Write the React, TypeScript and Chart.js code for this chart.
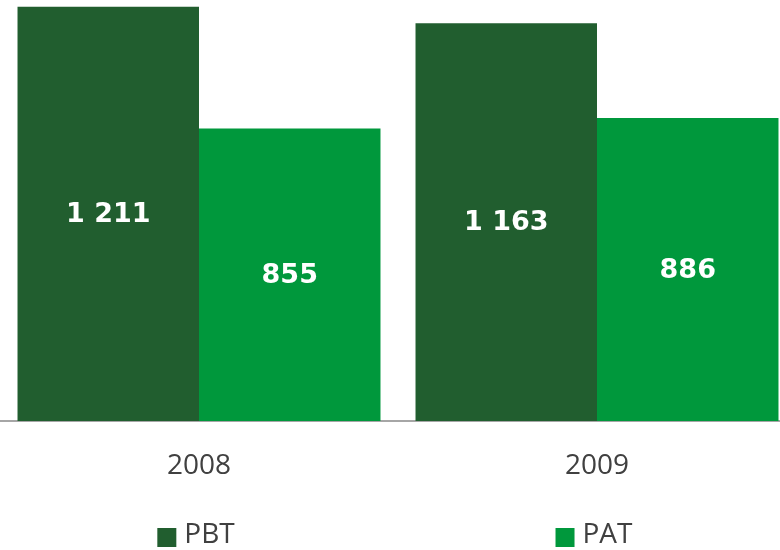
import React, { useEffect, useRef } from "react";
import { Chart, registerables } from "chart.js";

Chart.register(...registerables);

const categories = ["2008", "2009"];
const seriesNames = ["PBT", "PAT"];
const pbtValues = [1211, 1163];
const patValues = [855, 886];
const seriesColors = ["#215E2F", "#00983C"];

const formatValue = (v: number) => String(v).replace(/\B(?=(\d{3})+(?!\d))/g, " ");

const valueLabelPlugin = {
  id: "valueLabels",
  afterDatasetsDraw(chart: any) {
    const ctx = chart.ctx;
    ctx.save();
    ctx.font = 'bold 27px "DejaVu Sans"';
    ctx.fillStyle = "#FFFFFF";
    ctx.textAlign = "center";
    ctx.textBaseline = "middle";
    chart.data.datasets.forEach((ds: any, di: number) => {
      const meta = chart.getDatasetMeta(di);
      meta.data.forEach((bar: any, i: number) => {
        const p = bar.getProps(["x", "y", "base"], true);
        ctx.fillText(formatValue(ds.data[i]), p.x, (p.y + p.base) / 2 + 1);
      });
    });
    ctx.restore();
  },
};

const spreadLegendPlugin = {
  id: "spreadLegend",
  afterDraw(chart: any) {
    const ctx = chart.ctx;
    const xScale = chart.scales.x;
    ctx.save();
    ctx.font = '28px "Open Sans"';
    ctx.textBaseline = "middle";
    ctx.textAlign = "left";
    chart.data.datasets.forEach((ds: any, i: number) => {
      const cx = xScale.getPixelForTick(i);
      const box = 19;
      const gap = 8;
      const tw = ctx.measureText(ds.label).width;
      const w = box + gap + tw;
      const left = cx - w / 2 - 3;
      const boxTop = chart.height - 22;
      ctx.fillStyle = ds.backgroundColor;
      ctx.fillRect(left, boxTop, box, box);
      ctx.fillStyle = "#404040";
      ctx.fillText(ds.label, left + box + gap, chart.height - 15);
    });
    ctx.restore();
  },
};

export default function App() {
  const canvasRef = useRef<HTMLCanvasElement | null>(null);

  useEffect(() => {
    if (!canvasRef.current) return;
    const chart = new Chart(canvasRef.current, {
      type: "bar",
      data: {
        labels: categories,
        datasets: [
          {
            label: seriesNames[0],
            data: pbtValues,
            backgroundColor: seriesColors[0],
            borderWidth: 0,
            barPercentage: 1,
            categoryPercentage: 0.912,
          },
          {
            label: seriesNames[1],
            data: patValues,
            backgroundColor: seriesColors[1],
            borderWidth: 0,
            barPercentage: 1,
            categoryPercentage: 0.912,
          },
        ],
      },
      options: {
        responsive: false,
        animation: false,
        layout: { padding: 0 },
        plugins: {
          legend: { display: false },
          tooltip: { enabled: false },
        },
        scales: {
          x: {
            grid: { display: false, drawTicks: false },
            border: { display: true, color: "#A6A6A6", width: 2 },
            ticks: {
              color: "#404040",
              font: { family: '"Open Sans"', size: 28 },
              padding: 28,
            },
            afterFit: (scale: any) => {
              scale.height = 129;
            },
          },
          y: {
            display: false,
            min: 0,
            max: 1231,
          },
        },
      },
      plugins: [valueLabelPlugin, spreadLegendPlugin],
    });
    return () => chart.destroy();
  }, []);

  return (
    <div
      style={{
        position: "fixed",
        left: 0,
        top: 0,
        width: 780,
        height: 550,
        overflow: "hidden",
        background: "#FFFFFF",
      }}
    >
      <canvas ref={canvasRef} width={796} height={550} />
    </div>
  );
}
